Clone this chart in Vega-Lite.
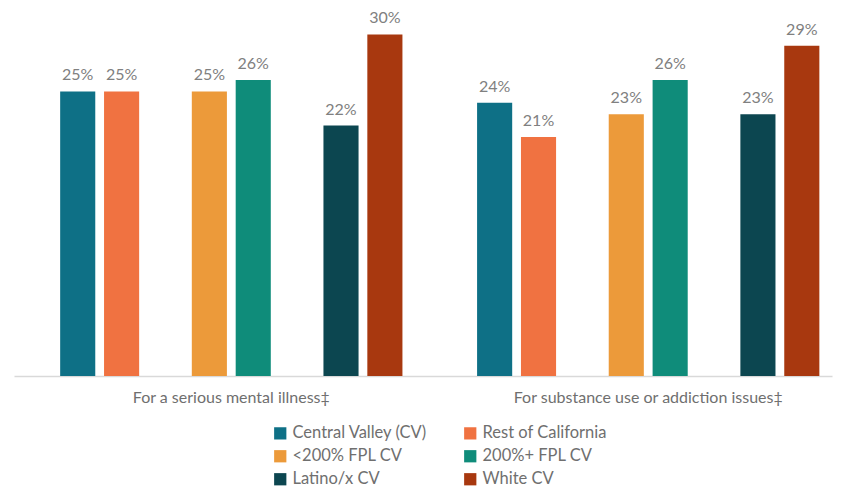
{
  "$schema": "https://vega.github.io/schema/vega-lite/v6.json",
  "width": 818,
  "height": 370,
  "autosize": {"type": "none"},
  "padding": {"left": 14, "top": 6, "right": 14, "bottom": 112},
  "background": "white",
  "config": {"view": {"stroke": null}, "font": "Lato"},
  "data": {
    "values": [
      {"group": "For a serious mental illness‡", "series": "Central Valley (CV)", "value": 0.25},
      {"group": "For a serious mental illness‡", "series": "Rest of California", "value": 0.25},
      {"group": "For a serious mental illness‡", "series": "<200% FPL CV", "value": 0.25},
      {"group": "For a serious mental illness‡", "series": "200%+ FPL CV", "value": 0.26},
      {"group": "For a serious mental illness‡", "series": "Latino/x CV", "value": 0.22},
      {"group": "For a serious mental illness‡", "series": "White CV", "value": 0.30},
      {"group": "For substance use or addiction issues‡", "series": "Central Valley (CV)", "value": 0.24},
      {"group": "For substance use or addiction issues‡", "series": "Rest of California", "value": 0.21},
      {"group": "For substance use or addiction issues‡", "series": "<200% FPL CV", "value": 0.23},
      {"group": "For substance use or addiction issues‡", "series": "200%+ FPL CV", "value": 0.26},
      {"group": "For substance use or addiction issues‡", "series": "Latino/x CV", "value": 0.23},
      {"group": "For substance use or addiction issues‡", "series": "White CV", "value": 0.29}
    ]
  },
  "encoding": {
    "x": {
      "field": "group", "type": "nominal", "sort": null, "title": null,
      "scale": {"paddingInner": 0.158, "paddingOuter": 0.06, "align": 0.835},
      "axis": {"labelAngle": 0, "ticks": false, "domainColor": "#d9d9d9", "domainWidth": 1.5, "labelColor": "#6f6f6f", "labelFontSize": 16, "labelPadding": 13, "labelDx": -15, "labelLimit": 0, "labelFont": "Lato"}
    },
    "xOffset": {
      "field": "series", "type": "nominal",
      "scale": {"domain": ["Central Valley (CV)", "Rest of California", "gap1", "<200% FPL CV", "200%+ FPL CV", "gap2", "Latino/x CV", "White CV"], "paddingInner": 0.2, "paddingOuter": 0.1}
    },
    "y": {
      "field": "value", "type": "quantitative",
      "scale": {"domain": [0, 0.325], "nice": false},
      "axis": null
    }
  },
  "layer": [
    {
      "mark": {"type": "bar"},
      "encoding": {
        "color": {
          "field": "series", "type": "nominal",
          "scale": {
            "domain": ["Central Valley (CV)", "Rest of California", "<200% FPL CV", "200%+ FPL CV", "Latino/x CV", "White CV"],
            "range": ["#0e7086", "#f07241", "#ec9a3a", "#0f8c7a", "#0c4650", "#a8380f"]
          },
          "legend": {
            "title": null, "orient": "none", "legendX": 258, "legendY": 419, "columns": 2, "direction": "horizontal",
            "columnPadding": 34, "rowPadding": 6, "symbolType": "square", "symbolSize": 150, "symbolStrokeWidth": 0,
            "labelFontSize": 16.5, "labelColor": "#6f6f6f", "labelFont": "Lato", "labelOffset": 4, "labelLimit": 0
          }
        }
      }
    },
    {
      "mark": {"type": "text", "baseline": "bottom", "dy": -8, "fontSize": 16, "color": "#808080", "font": "Lato"},
      "encoding": {
        "text": {"field": "value", "type": "quantitative", "format": ".0%"},
        "detail": {"field": "series"}
      }
    }
  ]
}
